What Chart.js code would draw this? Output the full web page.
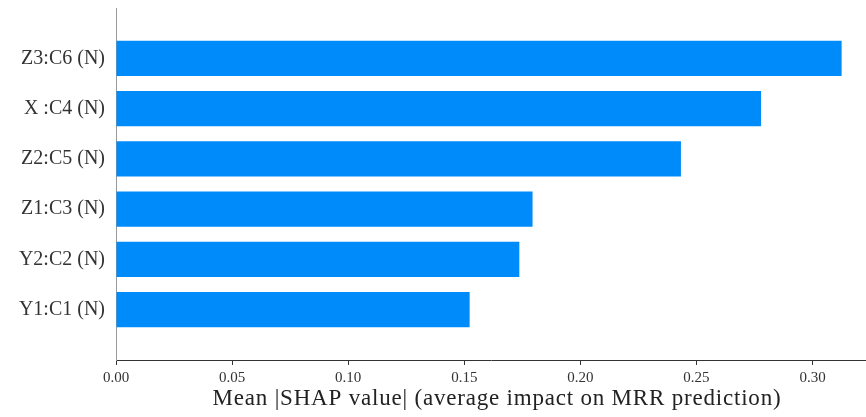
<!DOCTYPE html>
<html>
<head>
<meta charset="utf-8">
<script src="https://cdn.jsdelivr.net/npm/chart.js@4"></script>
<style>
  html, body { margin: 0; padding: 0; background: #fff; }
  #wrap { width: 866px; height: 417px; position: relative; }
</style>
</head>
<body>
<div id="wrap"><canvas id="graph"></canvas></div>
<script>
// feature names, top to bottom
const features = ["Z3:C6 (N)", "X :C4 (N)", "Z2:C5 (N)", "Z1:C3 (N)", "Y2:C2 (N)", "Y1:C1 (N)"];
// mean |SHAP| per feature
const meanShap = [0.3125, 0.2778, 0.2433, 0.1794, 0.1737, 0.1523];
// x axis ticks
const xTicks = [0.00, 0.05, 0.10, 0.15, 0.20, 0.25, 0.30];

// one empty slot above and below the bars, like ylim(-1, n)
const yLabels = ["", ...features, ""];
const barData = [null, ...meanShap, null];

const textColor = "#333333";
const serif = "'Liberation Serif', 'Times New Roman', serif";

// slightly looser spacing for the x axis title only, nudged a bit right
const titleSpacing = {
  id: 'titleSpacing',
  afterLayout(chart) {
    const xs = chart.scales.x;
    if (xs._spaced) return;
    const drawTitle = xs.drawTitle.bind(xs);
    xs.drawTitle = (...args) => {
      chart.ctx.save();
      chart.ctx.letterSpacing = '0.8px';
      chart.ctx.translate(6, 0);
      drawTitle(...args);
      chart.ctx.restore();
    };
    xs._spaced = true;
  }
};

window.onload = () => {
  const ctx = document.getElementById('graph').getContext('2d');
  new Chart(ctx, {
    type: 'bar',
    data: {
      labels: yLabels,
      datasets: [{
        data: barData,
        backgroundColor: '#008bfb',
        borderWidth: 0,
        barPercentage: 0.7,
        categoryPercentage: 1
      }]
    },
    plugins: [titleSpacing],
    options: {
      indexAxis: 'y',
      responsive: true,
      maintainAspectRatio: false,
      animation: false,
      layout: { padding: { top: 8, right: 0, bottom: 0, left: 0 } },
      plugins: {
        legend: { display: false },
        tooltip: { enabled: false }
      },
      scales: {
        x: {
          type: 'linear',
          min: 0,
          max: 0.323,
          afterBuildTicks: scale => {
            scale.ticks = xTicks.map(v => ({ value: v }));
          },
          afterFit: scale => { scale.height = 57; },
          grid: {
            display: true,
            drawOnChartArea: false,
            drawTicks: true,
            tickLength: 5,
            color: '#333333'
          },
          border: { display: true, color: '#333333', width: 1 },
          ticks: {
            padding: 4,
            color: textColor,
            font: { family: serif, size: 15 },
            callback: v => v.toFixed(2)
          },
          title: {
            display: true,
            text: 'Mean |SHAP value| (average impact on MRR prediction)',
            color: '#222222',
            font: { family: serif, size: 23 },
            padding: { top: 0, bottom: 4 }
          }
        },
        y: {
          type: 'category',
          offset: false,
          afterFit: scale => {
            scale.width = 116;
            // empty end labels need no room
            scale.paddingTop = 0;
            scale.paddingBottom = 0;
          },
          grid: { display: false, drawTicks: false },
          border: { display: true, color: '#999999', width: 1 },
          ticks: {
            autoSkip: false,
            padding: 11,
            color: textColor,
            font: { family: serif, size: 20 }
          }
        }
      }
    }
  });
};
</script>
</body>
</html>
